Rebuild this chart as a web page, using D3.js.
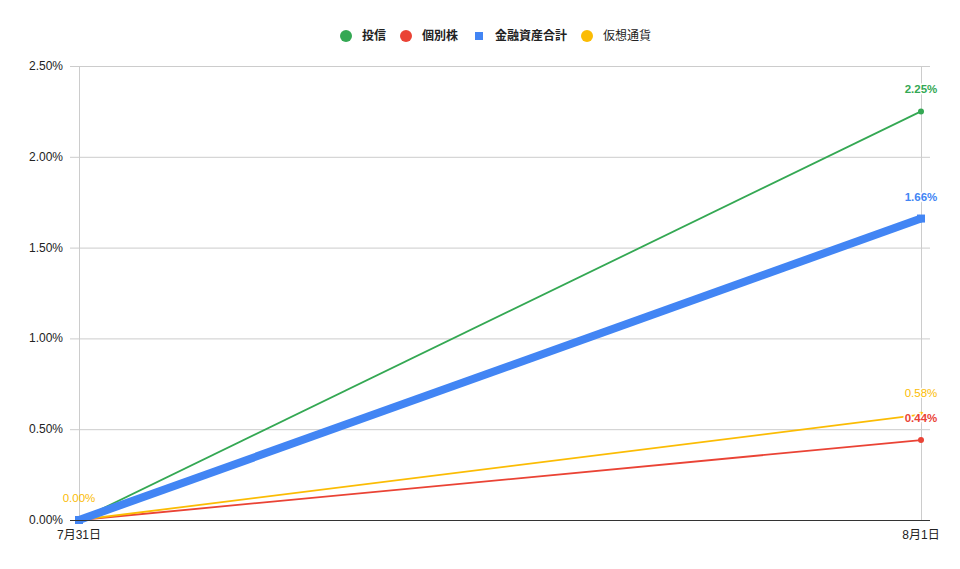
<!DOCTYPE html>
<html>
<head>
<meta charset="utf-8">
<script src="https://cdn.jsdelivr.net/npm/d3@7"></script>
<style>
  body { margin: 0; background: #fff; }
  text { font-family: "Liberation Sans", Arial, "Noto Sans CJK JP", sans-serif; }
</style>
</head>
<body>
<div id="chart"></div>
<script>
var width = 960, height = 569;

// data
var dates = ['7月31日', '8月1日'];
var seriesNames = ['投信', '個別株', '金融資産合計', '仮想通貨'];
var toushin = [0, 2.25];
var kobetsu = [0, 0.44];
var total = [0, 1.66];
var kasou = [0, 0.58];
var yTicks = [0, 0.5, 1.0, 1.5, 2.0, 2.5];

var colors = ['#34a853', '#ea4335', '#4285f4', '#fbbc04'];
var bold = [true, true, true, false];
var values = [toushin, kobetsu, total, kasou];
var series = seriesNames.map(function(n, i){
  return { name: n, values: values[i], color: colors[i], bold: bold[i], thick: i === 2 };
});

var svg = d3.select('#chart').append('svg')
  .attr('width', width)
  .attr('height', height);

var x = d3.scalePoint().domain(dates).range([79, 921]);
var y = d3.scaleLinear().domain([0, 2.5]).range([520, 66]);

// grid
svg.append('g').selectAll('line.h')
  .data(yTicks.slice(1))
  .enter().append('line')
  .attr('x1', 70).attr('x2', 930)
  .attr('y1', function(d){ return y(d) + 0.5; })
  .attr('y2', function(d){ return y(d) + 0.5; })
  .attr('stroke', '#cccccc').attr('stroke-width', 1);

svg.append('g').selectAll('line.v')
  .data(dates)
  .enter().append('line')
  .attr('x1', function(d){ return x(d) + 0.5; })
  .attr('x2', function(d){ return x(d) + 0.5; })
  .attr('y1', 66).attr('y2', 520)
  .attr('stroke', '#cccccc').attr('stroke-width', 1);

// y labels
svg.append('g').selectAll('text')
  .data(yTicks)
  .enter().append('text')
  .attr('x', 63)
  .attr('y', function(d){ return y(d) + 4; })
  .attr('text-anchor', 'end')
  .attr('font-size', 12)
  .attr('fill', '#222')
  .text(function(d){ return d.toFixed(2) + '%'; });

// x labels
svg.append('g').selectAll('text')
  .data(dates)
  .enter().append('text')
  .attr('x', function(d){ return x(d); })
  .attr('y', 539)
  .attr('text-anchor', 'middle')
  .attr('font-size', 12)
  .attr('fill', '#222')
  .text(function(d){ return d; });

var line = d3.line()
  .x(function(d, i){ return x(dates[i]); })
  .y(function(d){ return y(d); });

// lines
var order = [1, 3, 0, 2];
order.forEach(function(k){
  var s = series[k];
  svg.append('path')
    .datum(s.values)
    .attr('d', line)
    .attr('fill', 'none')
    .attr('stroke', s.color)
    .attr('stroke-width', s.thick ? 8 : 1.8);
  if (s.thick) {
    svg.append('g').selectAll('rect')
      .data(s.values)
      .enter().append('rect')
      .attr('x', function(d, i){ return x(dates[i]) - 4; })
      .attr('y', function(d){ return y(d) - 4; })
      .attr('width', 8).attr('height', 8)
      .attr('fill', s.color);
  } else {
    svg.append('g').selectAll('circle')
      .data(s.values)
      .enter().append('circle')
      .attr('cx', function(d, i){ return x(dates[i]); })
      .attr('cy', function(d){ return y(d); })
      .attr('r', 3)
      .attr('fill', s.color);
  }
});

// x axis baseline
svg.append('line')
  .attr('x1', 70).attr('x2', 930)
  .attr('y1', 520.5).attr('y2', 520.5)
  .attr('stroke', '#333').attr('stroke-width', 1);

// data labels (last point), and first-point label for kasou
order.forEach(function(k){
  var s = series[k];
  var last = s.values.length - 1;
  svg.append('text')
    .attr('x', x(dates[last]))
    .attr('y', y(s.values[last]) - 18)
    .attr('text-anchor', 'middle')
    .attr('font-size', 11.5)
    .attr('font-weight', s.bold ? 'bold' : 'normal')
    .attr('fill', s.color)
    .attr('stroke', '#fff').attr('stroke-width', 3).attr('paint-order', 'stroke')
    .text(s.values[last].toFixed(2) + '%');
});
svg.append('text')
  .attr('x', x(dates[0]))
  .attr('y', y(kasou[0]) - 18)
  .attr('text-anchor', 'middle')
  .attr('font-size', 11.5)
  .attr('fill', colors[3])
  .text(kasou[0].toFixed(2) + '%');

// legend
var legendX = [346, 406, 479, 587];
var legend = svg.append('g').selectAll('g')
  .data(series)
  .enter().append('g')
  .attr('transform', function(d, i){ return 'translate(' + legendX[i] + ',36)'; });

legend.each(function(d){
  var g = d3.select(this);
  if (d.thick) {
    g.append('rect').attr('x', -4).attr('y', -4).attr('width', 8).attr('height', 8).attr('fill', d.color);
  } else {
    g.append('circle').attr('r', 6).attr('fill', d.color);
  }
});
legend.append('text')
  .attr('x', 16)
  .attr('y', 4)
  .attr('font-size', 12)
  .attr('font-weight', function(d){ return d.bold ? 'bold' : 'normal'; })
  .attr('fill', '#222')
  .text(function(d){ return d.name; });
</script>
</body>
</html>
